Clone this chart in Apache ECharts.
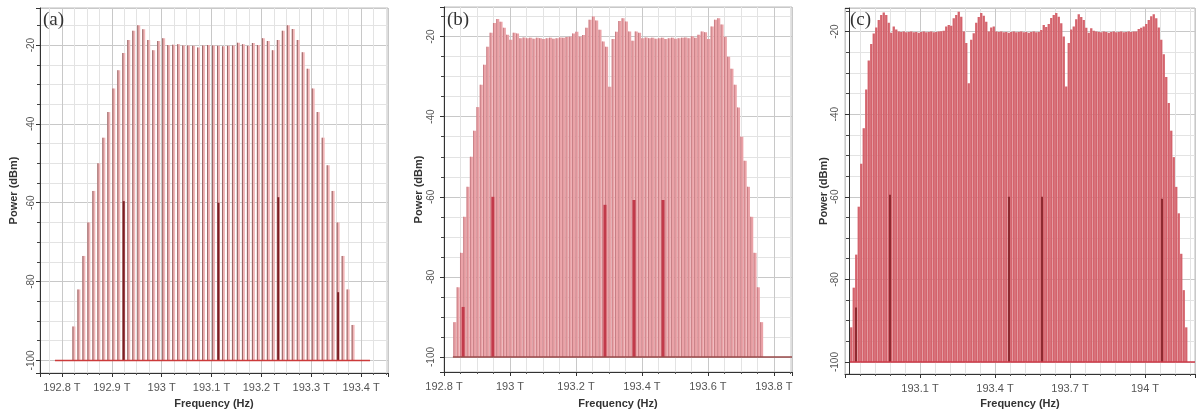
<!DOCTYPE html>
<html><head><meta charset="utf-8">
<script src="https://cdn.jsdelivr.net/npm/echarts@6/dist/echarts.min.js"></script>
<style>html,body{margin:0;padding:0;background:#fff}#c{width:1197px;height:414px}</style>
</head><body><div id="c"></div>
<script>
// ---------- Panel (a) ----------
const aStartFreq = 192.824, aStepFreq = 0.01;   // channel grid (THz)
const aPower = [-91.4,-82,-73.5,-65,-57,-50,-43.5,-37,-31,-26.4,-22,-18.7,-16.4,-15,-16,-18.7,-21.3,-19,-18.3,-20,
  -19.9,-19.8,-20.1,-20.1,-20.2,-20.6,-20.1,-20,-20.1,-20.2,-20.3,-20.2,-20.1,-19.4,-19.8,-20.2,-19.5,-20,
  -18.3,-19,-21.3,-18.7,-16.4,-15,-15.9,-18.7,-21.8,-26,-31,-37,-43.5,-50.5,-57,-65,-73.5,-82,-91];
const aMarkFreq = [192.924, 193.114, 193.234, 193.354];
const aMarkPower = [-59.6, -60, -58.6, -82.7];
const aFloorFreq = [192.786, 193.418];
const aTicks = [192.8, 192.9, 193.0, 193.1, 193.2, 193.3, 193.4];
const aTickLabels = ['192.8 T','192.9 T','193 T','193.1 T','193.2 T','193.3 T','193.4 T'];

// ---------- Panel (b) ----------
const bStartFreq = 192.833, bStepFreq = 0.01;
const bPower = [-91.3,-82.6,-74,-65,-57.5,-50,-43.5,-37.6,-32,-27,-22.5,-19,-16.6,-15.6,-16.3,-17.8,-19.5,-20.8,-19,-19.2,
  -20.4,-20.2,-20.4,-20.3,-20.5,-20.3,-20.4,-20.6,-20.4,-20.3,-20.5,-20.4,-20.2,-20.3,-20.1,-20,-19.2,-18.8,-20,-19.6,
  -17.8,-15.8,-15,-16,-18.3,-21.2,-22.5,-32.5,-20.6,-18.8,-16.1,-15.4,-16.2,-18.7,-21,-18.7,-19,-20.4,-20.2,-20.4,
  -20.3,-20.5,-20.4,-20.3,-20.6,-20.4,-20.3,-20.5,-20.4,-20.3,-20.2,-20.4,-19.9,-20.3,-19.5,-18.7,-18.9,-20.6,-17.5,-15.8,
  -15.4,-17,-20,-25,-28,-32,-37.7,-45,-51,-57.5,-65,-74,-82.6,-91.3];
const bMarkFreq = [192.858, 192.948, 193.288, 193.376, 193.464];
const bMarkPower = [-87.5, -60, -62, -60.8, -60.8];
const bFloorFreq = [192.827, 193.855];
const bTicks = [192.8, 193.0, 193.2, 193.4, 193.6, 193.8];
const bTickLabels = ['192.8 T','193 T','193.2 T','193.4 T','193.6 T','193.8 T'];

// ---------- Panel (c) ----------
const cStartFreq = 192.825, cStepFreq = 0.01;
const cPower = [-91.6,-82,-74,-62.4,-52,-43.4,-34,-27,-23,-20.5,-19,-17.2,-16,-15.4,-16,-17.9,-20.3,-18.8,-19.5,-20,
  -20.1,-20,-20.2,-20.1,-20,-20.2,-20.1,-20.3,-20.1,-20,-20.2,-20.1,-20,-20.2,-20.1,-20,-19.9,-19.8,-18.8,-18.4,
  -18.6,-16.8,-16,-15.2,-16.4,-20,-22.8,-32.5,-22,-20.4,-17.9,-16.5,-15.5,-16.2,-17.6,-20,-19,-18.8,-20,
  -20.1,-20,-20.2,-20.1,-20.3,-20.1,-20,-20.2,-20.1,-20,-20.2,-20.1,-20.3,-20.1,-20,-20.2,-20.1,
  -19.6,-18.4,-18.9,-18.2,-16.7,-16,-15.5,-16.4,-18,-21.2,-33.3,-22.8,-19.5,-18.8,-17,-15.8,-16.5,-17.2,-19.1,-20.3,-19.2,-19.8,
  -20,-20.1,-20.2,-20,-20.1,-20.3,-20.1,-20,-20.2,-20.1,-20,-20.2,-20.1,-20,-20.1,-20,
  -20,-19.4,-19.1,-18.8,-18.2,-17.2,-16.3,-15.8,-16.8,-19,-22,-25.5,-31,-37.3,-44,-50.4,-57.6,-64,-73.8,-82.6,-91.6];
const cMarkFreq = [192.844, 192.98, 193.456, 193.588, 194.068];
const cMarkPower = [-86.8, -59.5, -60, -60, -60.5];
const cFloorFreq = [192.82, 194.2];
const cTicks = [193.1, 193.4, 193.7, 194.0];
const cTickLabels = ['193.1 T','193.4 T','193.7 T','194 T'];

const yTicks = [-100, -80, -60, -40, -20];
const yTickLabels = ['-100', '-80', '-60', '-40', '-20'];
const FLOOR = -100;

const panels = [
  { tag:'(a)', start:aStartFreq, step:aStepFreq, power:aPower, mf:aMarkFreq, mp:aMarkPower, floor:aFloorFreq,
    ticks:aTicks, labels:aTickLabels,
    grid:{left:40, top:8, width:348, height:365}, xMin:192.756, xMax:193.454, xInt:undefined, xMinor:4,
    yMin:-103.2, yMax:-10.6, yOff:0, yMargin:4, yNameGap:21, xNameGap:25,
    barW:3.0, fill:'#f3b6b8', edge:'#9a6868', edgeW:1.1, markW:2, markC:'#7d1f24', floorC:'#cc3a3a',
    tagPos:{left:43, top:11} },
  { tag:'(b)', start:bStartFreq, step:bStepFreq, power:bPower, mf:bMarkFreq, mp:bMarkPower, floor:bFloorFreq,
    ticks:bTicks, labels:bTickLabels,
    grid:{left:444, top:7, width:348, height:365}, xMin:192.8, xMax:193.855, xInt:0.2, xMinor:4,
    yMin:-103.75, yMax:-12.6, yOff:0, yMargin:8, yNameGap:20, xNameGap:26,
    barW:3.0, fill:'#eba3a8', edge:'#c47a80', edgeW:0.9, markW:3, markC:'#c23a4a', floorC:'#9a4a4a',
    tagPos:{left:447, top:11} },
  { tag:'(c)', start:cStartFreq, step:cStepFreq, power:cPower, mf:cMarkFreq, mp:cMarkPower, floor:cFloorFreq,
    ticks:cTicks, labels:cTickLabels,
    grid:{left:845, top:8, width:350, height:366}, xMin:192.8, xMax:194.2, xInt:0.3, xMinor:5,
    yMin:-102.9, yMax:-14.3, yOff:-4, yMargin:9, yNameGap:19, xNameGap:24,
    barW:2.3, fill:'#d4636c', edge:null, edgeW:0, markW:2, markC:'#8e2a30', floorC:'#d03a48',
    tagPos:{left:850, top:11} }
];

function lookup(ticks, labels) {
  return function (v) {
    for (let i = 0; i < ticks.length; i++) if (Math.abs(ticks[i] - v) < 1e-6) return labels[i];
    return '';
  };
}
function makeBars(w, fill, edge, ew) {
  return function (params, api) {
    const t = api.coord([api.value(0), api.value(1)]);
    const b = api.coord([api.value(0), FLOOR]);
    const h = b[1] - t[1];
    const ch = [{ type:'rect', shape:{ x:t[0] - w / 2, y:t[1], width:w, height:h }, style:{ fill:fill } }];
    if (edge) ch.push({ type:'rect', shape:{ x:t[0] - w / 2, y:t[1], width:ew, height:h }, style:{ fill:edge } });
    return { type:'group', children:ch };
  };
}

const font = 'Liberation Sans';
const option = { animation:false, backgroundColor:'#fff', grid:[], xAxis:[], yAxis:[], series:[], title:[] };

panels.forEach(function (p, gi) {
  option.grid.push(Object.assign({ show:true, borderColor:'#bdbdbd', borderWidth:1, backgroundColor:'transparent',
    containLabel:false, outerBoundsMode:'none' }, p.grid));
  option.xAxis.push({
    type:'value', gridIndex:gi, min:p.xMin, max:p.xMax, interval:p.xInt,
    axisLine:{ show:true, onZero:false, lineStyle:{ color:'#333', width:1 } },
    axisTick:{ show:true, length:4, lineStyle:{ color:'#333' } },
    minorTick:{ show:true, splitNumber:p.xMinor, length:2, lineStyle:{ color:'#555' } },
    splitLine:{ show:true, lineStyle:{ color:'#c8c8c8', width:1 } },
    minorSplitLine:{ show:true, lineStyle:{ color:'#e3e3e3', width:1 } },
    axisLabel:{ formatter:lookup(p.ticks, p.labels), margin:9, color:'#555', fontSize:11, fontFamily:font, hideOverlap:false },
    name:'Frequency (Hz)', nameLocation:'middle', nameGap:p.xNameGap,
    nameTextStyle:{ fontWeight:'bold', fontSize:11, color:'#333', fontFamily:font }
  });
  option.yAxis.push({
    type:'value', gridIndex:gi, min:p.yMin, max:p.yMax, offset:p.yOff,
    axisLine:{ show:true, onZero:false, lineStyle:{ color:'#333', width:1 } },
    axisTick:{ show:true, length:4, lineStyle:{ color:'#333' } },
    minorTick:{ show:true, splitNumber:4, length:3, lineStyle:{ color:'#444' } },
    splitLine:{ show:true, lineStyle:{ color:'#c8c8c8', width:1 } },
    minorSplitLine:{ show:true, lineStyle:{ color:'#e3e3e3', width:1 } },
    axisLabel:{ formatter:lookup(yTicks, yTickLabels), rotate:90, margin:p.yMargin, color:'#555', fontSize:10, fontFamily:font, hideOverlap:false },
    name:'Power (dBm)', nameLocation:'middle', nameRotate:90, nameGap:p.yNameGap,
    nameTextStyle:{ fontWeight:'bold', fontSize:11, color:'#333', fontFamily:font }
  });
  const chan = p.power.map(function (v, i) { return [+(p.start + i * p.step).toFixed(4), v]; });
  option.series.push({ type:'custom', xAxisIndex:gi, yAxisIndex:gi, data:chan, silent:true, z:2,
    renderItem:makeBars(p.barW, p.fill, p.edge, p.edgeW), encode:{ x:0, y:1 } });
  const marks = p.mf.map(function (f, i) { return [f, p.mp[i]]; });
  option.series.push({ type:'custom', xAxisIndex:gi, yAxisIndex:gi, data:marks, silent:true, z:3,
    renderItem:makeBars(p.markW, p.markC, null, 0), encode:{ x:0, y:1 } });
  option.series.push({ type:'line', xAxisIndex:gi, yAxisIndex:gi, data:p.floor.map(function (f) { return [f, FLOOR]; }),
    symbol:'none', silent:true, z:4, lineStyle:{ color:p.floorC, width:1.5 } });
  option.title.push({ text:p.tag, left:p.tagPos.left, top:p.tagPos.top, padding:0,
    textStyle:{ fontFamily:'Liberation Serif', fontSize:19, fontWeight:'normal', color:'#333' } });
});

const chart = echarts.init(document.getElementById('c'), null, { renderer:'canvas' });
chart.setOption(option);
</script></body></html>
